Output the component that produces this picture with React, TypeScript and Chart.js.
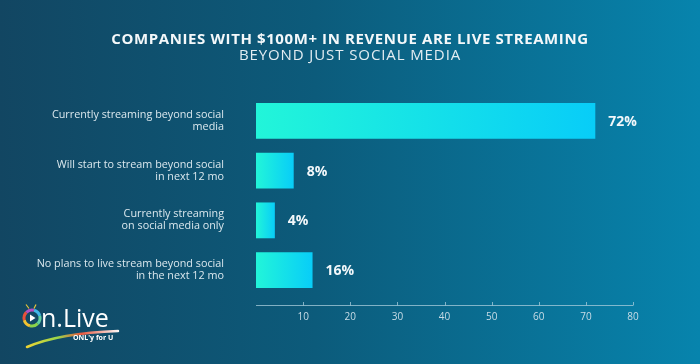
import React, { useEffect, useRef } from "react";
import { Chart, registerables } from "chart.js";

Chart.register(...registerables);

const titleLine1 = "COMPANIES WITH $100M+ IN REVENUE ARE LIVE STREAMING";
const titleLine2 = "BEYOND JUST SOCIAL MEDIA";
const categories: string[][] = [
  ["Currently streaming beyond social", "media"],
  ["Will start to stream beyond social", "in next 12 mo"],
  ["Currently streaming", "on social media only"],
  ["No plans to live stream beyond social", "in the next 12 mo"],
];
const barValues = [72, 8, 4, 12];
const valueLabels = ["72%", "8%", "4%", "16%"];
const xMin = 0;
const xMax = 80;
const xStep = 10;
const logoMain = "n.Live";
const logoTag = "ONL'y for U";

const FONT = "'Open Sans', 'Noto Sans', sans-serif";

const backgroundPlugin = {
  id: "bg",
  beforeDraw(chart: any) {
    const { ctx, width, height } = chart;
    const g = ctx.createLinearGradient(0, 0, width, 0);
    g.addColorStop(0, "#124662");
    g.addColorStop(0.45, "#0c5b7b");
    g.addColorStop(1, "#0784ad");
    ctx.save();
    ctx.fillStyle = g;
    ctx.fillRect(0, 0, width, height);
    ctx.restore();
  },
};

const titlePlugin = {
  id: "titles",
  afterDraw(chart: any) {
    const { ctx, width } = chart;
    ctx.save();
    ctx.textAlign = "center";
    ctx.textBaseline = "alphabetic";
    ctx.fillStyle = "#f4f8fa";
    ctx.font = `700 15px ${FONT}`;
    (ctx as any).letterSpacing = "0.6px";
    ctx.fillText(titleLine1, width / 2, 43.5);
    ctx.fillStyle = "#e3edf2";
    ctx.font = `400 15px ${FONT}`;
    (ctx as any).letterSpacing = "0.9px";
    ctx.fillText(titleLine2, width / 2, 59.5);
    ctx.restore();
  },
};

const axisPlugin = {
  id: "axisLine",
  afterDraw(chart: any) {
    const { ctx, chartArea } = chart;
    const xs = chart.scales.x;
    const y = chartArea.bottom + 10;
    ctx.save();
    ctx.strokeStyle = "rgba(170,205,220,0.75)";
    ctx.lineWidth = 1;
    ctx.beginPath();
    ctx.moveTo(xs.getPixelForValue(xMin), y + 0.5);
    ctx.lineTo(xs.getPixelForValue(xMax), y + 0.5);
    xs.ticks.forEach((t: any) => {
      if (t.value === xMin) return;
      const px = Math.round(xs.getPixelForValue(t.value)) + 0.5;
      ctx.moveTo(px, y + 0.5);
      ctx.lineTo(px, y - 3);
    });
    ctx.stroke();
    ctx.restore();
  },
};

const valueLabelPlugin = {
  id: "valueLabels",
  afterDatasetsDraw(chart: any) {
    const { ctx } = chart;
    const meta = chart.getDatasetMeta(0);
    ctx.save();
    ctx.fillStyle = "#f2f7fa";
    ctx.font = `700 14px ${FONT}`;
    ctx.textAlign = "left";
    ctx.textBaseline = "middle";
    meta.data.forEach((bar: any, i: number) => {
      ctx.fillText(valueLabels[i], bar.x + 13, bar.y + 1);
    });
    ctx.restore();
  },
};

const logoPlugin = {
  id: "logo",
  afterDraw(chart: any) {
    const { ctx } = chart;
    ctx.save();
    const cx = 32;
    const cy = 318;
    const r = 8;
    const cols = ["#8bd34a", "#f2c230", "#e8513a", "#b44fc0", "#3fb6e8", "#5fd0a0"];
    cols.forEach((c, i) => {
      ctx.beginPath();
      ctx.strokeStyle = c;
      ctx.lineWidth = 3;
      const a0 = (i / cols.length) * Math.PI * 2 + Math.PI * 0.25;
      const a1 = ((i + 1) / cols.length) * Math.PI * 2 + Math.PI * 0.25;
      ctx.arc(cx, cy, r, a0, a1);
      ctx.stroke();
    });
    ctx.fillStyle = "#ffffff";
    ctx.beginPath();
    ctx.moveTo(cx - 2, cy - 3.5);
    ctx.lineTo(cx + 3.5, cy);
    ctx.lineTo(cx - 2, cy + 3.5);
    ctx.closePath();
    ctx.fill();
    ctx.strokeStyle = "#e8c53a";
    ctx.lineWidth = 1.2;
    ctx.beginPath();
    ctx.moveTo(cx - 3, cy - 9.5);
    ctx.lineTo(cx - 6, cy - 13.5);
    ctx.moveTo(cx + 2, cy - 9.5);
    ctx.lineTo(cx + 4, cy - 13.5);
    ctx.stroke();
    ctx.fillStyle = "#ffffff";
    ctx.font = `400 25px ${FONT}`;
    ctx.textAlign = "left";
    ctx.textBaseline = "alphabetic";
    ctx.fillText(logoMain, 41, 327);
    const sg = ctx.createLinearGradient(24, 0, 120, 0);
    sg.addColorStop(0, "#f4d330");
    sg.addColorStop(0.35, "#9ad64a");
    sg.addColorStop(0.6, "#e9573e");
    sg.addColorStop(1, "#ffffff");
    ctx.strokeStyle = sg;
    ctx.lineWidth = 2.5;
    ctx.lineCap = "round";
    ctx.beginPath();
    ctx.moveTo(27, 347);
    ctx.quadraticCurveTo(60, 333, 118, 331);
    ctx.stroke();
    ctx.fillStyle = "#ffffff";
    ctx.font = `700 7px ${FONT}`;
    ctx.fillText(logoTag, 73, 340);
    ctx.restore();
  },
};

export default function App() {
  const canvasRef = useRef<HTMLCanvasElement | null>(null);

  useEffect(() => {
    document.body.style.margin = "0";
    const canvas = canvasRef.current;
    if (!canvas) return;
    const chart = new Chart(canvas, {
      type: "bar",
      data: {
        labels: categories,
        datasets: [
          {
            data: barValues,
            backgroundColor: (c: any) => {
              const ch = c.chart;
              const xs = ch.scales && ch.scales.x;
              if (!xs || c.raw === undefined) return "#1ff3dc";
              const x0 = xs.getPixelForValue(xMin);
              const x1 = xs.getPixelForValue(c.raw);
              if (!isFinite(x0) || !isFinite(x1) || x1 <= x0) return "#1ff3dc";
              const g = ch.ctx.createLinearGradient(x0, 0, x1, 0);
              g.addColorStop(0, "#22f5d9");
              g.addColorStop(1, "#08cdf8");
              return g;
            },
            borderWidth: 0,
            barPercentage: 0.72,
            categoryPercentage: 1,
          },
        ],
      },
      options: {
        indexAxis: "y",
        responsive: false,
        animation: false,
        devicePixelRatio: 1,
        layout: { padding: { left: 0, right: 67, top: 96, bottom: 25 } },
        plugins: {
          legend: { display: false },
          tooltip: { enabled: false },
          title: { display: false },
        },
        scales: {
          x: {
            type: "linear",
            min: xMin,
            max: xMax,
            grid: { display: false, drawTicks: false },
            border: { display: false },
            ticks: {
              stepSize: xStep,
              padding: 16,
              color: "#c8dce6",
              font: { family: FONT, size: 10 },
              callback: (v: any) => (v === xMin ? "" : String(v)),
            },
          },
          y: {
            grid: { display: false, drawTicks: false },
            border: { display: false },
            ticks: {
              padding: 32,
              color: "#dbe8ee",
              font: { family: FONT, size: 10.8, lineHeight: "12px" },
            },
            afterFit: (scale: any) => {
              scale.width = 256;
            },
          },
        },
      },
      plugins: [backgroundPlugin, titlePlugin, axisPlugin, valueLabelPlugin, logoPlugin],
    } as any);
    return () => chart.destroy();
  }, []);

  return (
    <div style={{ width: 700, height: 364 }}>
      <canvas ref={canvasRef} width={700} height={364} />
    </div>
  );
}
